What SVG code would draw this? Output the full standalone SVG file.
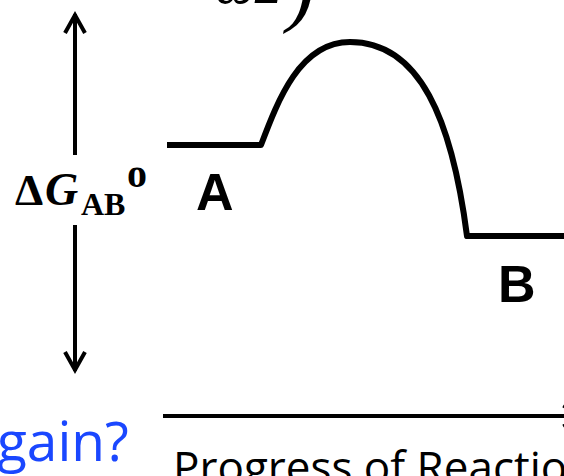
<svg xmlns="http://www.w3.org/2000/svg" width="564" height="476" viewBox="0 0 564 476">
<style>
.ln{stroke:#000;fill:none;stroke-linecap:butt}
.math{font-family:"Liberation Serif","DejaVu Serif",serif;font-weight:bold;fill:#000}
.lbl{font-family:"Liberation Sans",Arial,sans-serif;font-weight:bold;fill:#000}
.cal{font-family:"Open Sans","Liberation Sans",sans-serif}
</style>
<rect width="564" height="476" fill="#fff"/>
<g id="top-formula">
<text x="215" y="3" font-family="Liberation Serif,serif" font-style="italic" font-size="56">ω2</text>
<text x="287" y="16" font-family="Liberation Serif,serif" font-style="italic" font-size="84">)</text>
</g>
<g id="connectors">
<path class="ln" stroke-width="4" d="M75,14 V155 M75,225 V371"/>
<path class="ln" stroke-width="4" stroke-linejoin="miter" d="M65,33 L75,15 L85,33"/>
<path class="ln" stroke-width="4" stroke-linejoin="miter" d="M65,352 L75,370 L85,352"/>
<path class="ln" stroke-width="4" d="M163,416 H564"/>
<path class="ln" stroke-width="3" d="M563,406 L583,416 L563,426"/>
<path id="energy-curve" class="ln" stroke-width="6" stroke-linejoin="round" d="M167,145 H261 C278,100 300,42 350,42 C420,42 452,120 467,236 H564"/>
</g>
<g id="delta-label">
<text class="math" x="15" y="205" font-size="45">Δ</text>
<text class="math" x="45" y="205" font-size="46" font-style="italic">G</text>
<text class="math" x="81" y="215" font-size="32">AB</text>
<text class="math" x="127" y="187" font-size="40">o</text>
</g>
<g id="node-A"><text class="lbl" x="196" y="210" font-size="52">A</text></g>
<g id="node-B"><text class="lbl" x="498" y="302" font-size="52">B</text></g>
<g id="gain"><text class="cal" x="-3" y="461" font-size="55" fill="#1a47ff">gain?</text></g>
<g id="axis-label"><text class="cal" x="173" y="483" font-size="44" fill="#000">Progress of Reaction</text></g>
</svg>
